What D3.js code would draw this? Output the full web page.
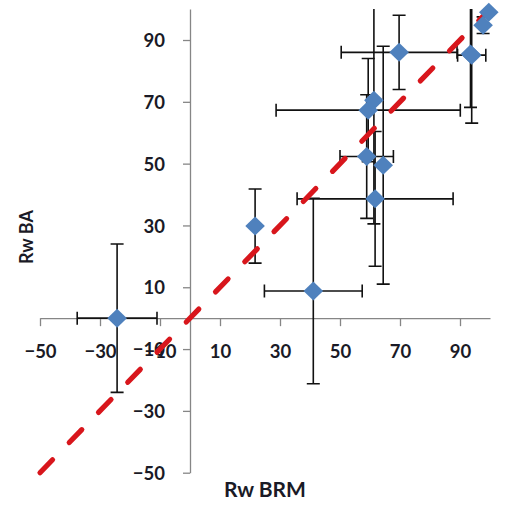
<!DOCTYPE html>
<html>
<head>
<meta charset="utf-8">
<script src="https://cdn.jsdelivr.net/npm/d3@7"></script>
<style>
  html, body { margin: 0; padding: 0; background: #fff; }
  svg { display: block; }
  .tick text { font-family: Lato, "Open Sans", sans-serif; font-weight: 700; font-size: 18.5px; fill: #1a1a26; }
  .title { font-family: Lato, "Open Sans", sans-serif; font-weight: 700; fill: #1a1a26; }
</style>
</head>
<body>
<svg id="chart" width="508" height="507"></svg>
<script>
// ---- data ----
const xValues = [-24.3, 21.7, 41.1, 58.9, 64.4, 61.7, 61.3, 59.4, 69.7, 93.9, 93.5, 97.7, 99.6];
const yValues = [0, 29.8, 8.8, 52.3, 49.5, 38.6, 70.5, 67.3, 86.0, 85.1, 85.5, 94.8, 99.0];
const xErrors = [13.3, 0, 16.3, 8.9, 0, 26.0, 0, 30.7, 19.3, 4.7, 0, 0, 0];
const yErrors = [24.0, 12.0, 30.0, 20.0, 38.5, 21.8, 40.0, 16.7, 12.0, 22.0, 17.3, 2.7, 0];
const lineX = [-50, 100];
const lineY = [-50, 100];
const xTickValues = [-50, -30, -10, 10, 30, 50, 70, 90];
const yTickValues = [-50, -30, -10, 10, 30, 50, 70, 90];
const xTitle = "Rw BRM";
const yTitle = "Rw BA";

const svg = d3.select("#chart");
const x = d3.scaleLinear().domain([-50, 100]).range([40, 490]);
const y = d3.scaleLinear().domain([-50, 100]).range([472.7, 9.1]);

const points = xValues.map((v, i) => ({x: v, y: yValues[i], ex: xErrors[i], ey: yErrors[i]}));

// clip for error bars (plot area)
svg.append("defs").append("clipPath").attr("id", "plotclip")
  .append("rect").attr("x", x(-50)).attr("y", y(100))
  .attr("width", x(100) - x(-50)).attr("height", y(-50) - y(100));

// axes
const axisColor = "#868686";
const xAxis = svg.append("g").attr("transform", `translate(0,${y(0)})`)
  .call(d3.axisBottom(x).tickValues(xTickValues).tickFormat(d3.format("d")).tickSize(8).tickSizeOuter(0).tickPadding(19));
const yAxis = svg.append("g").attr("transform", `translate(${x(0)},0)`)
  .call(d3.axisLeft(y).tickValues(yTickValues).tickFormat(d3.format("d")).tickSize(7).tickSizeOuter(0).tickPadding(18));
[xAxis, yAxis].forEach(g => {
  g.select(".domain").attr("stroke", axisColor).attr("stroke-width", 1.3);
  g.selectAll(".tick line").attr("stroke", axisColor).attr("stroke-width", 1.3);
  g.attr("font-family", null).attr("font-size", null);
});
xAxis.selectAll(".tick text").attr("fill", null);
yAxis.selectAll(".tick text").attr("fill", null);
xAxis.selectAll(".tick text").attr("dy", "0.7em");
yAxis.selectAll(".tick text").attr("dy", "0.36em");

// error bars
const eb = svg.append("g").attr("clip-path", "url(#plotclip)")
  .attr("stroke", "#111").attr("stroke-width", 1.6).attr("fill", "none");
const cap = 6.5;
points.forEach(p => {
  if (p.ey > 0) {
    const cx = x(p.x), y1 = y(p.y + p.ey), y2 = y(p.y - p.ey);
    eb.append("line").attr("x1", cx).attr("x2", cx).attr("y1", y1).attr("y2", y2);
    eb.append("line").attr("x1", cx - cap).attr("x2", cx + cap).attr("y1", y1).attr("y2", y1);
    eb.append("line").attr("x1", cx - cap).attr("x2", cx + cap).attr("y1", y2).attr("y2", y2);
  }
  if (p.ex > 0) {
    const cy = y(p.y), x1 = x(p.x - p.ex), x2 = x(p.x + p.ex);
    eb.append("line").attr("x1", x1).attr("x2", x2).attr("y1", cy).attr("y2", cy);
    eb.append("line").attr("x1", x1).attr("x2", x1).attr("y1", cy - cap).attr("y2", cy + cap);
    eb.append("line").attr("x1", x2).attr("x2", x2).attr("y1", cy - cap).attr("y2", cy + cap);
  }
});

// red dashed line y = x (over error bars, under markers)
const lineData = lineX.map((v, i) => [v, lineY[i]]);
svg.append("path").datum(lineData)
  .attr("d", d3.line().x(d => x(d[0])).y(d => y(d[1])))
  .attr("fill", "none").attr("stroke", "#d8161c").attr("stroke-width", 5.2)
  .attr("stroke-dasharray", "18,24").attr("stroke-linecap", "round");

// markers (diamonds)
svg.append("g").selectAll("path").data(points).join("path")
  .attr("d", d => {
    const cx = x(d.x), cy = y(d.y), w = 9.8, h = 9.5;
    return `M${cx},${cy - h}L${cx + w},${cy}L${cx},${cy + h}L${cx - w},${cy}Z`;
  })
  .attr("fill", "#4f81bd");

// titles
svg.append("text").attr("class", "title").attr("x", 265).attr("y", 497)
  .attr("text-anchor", "middle").attr("font-size", 21).text(xTitle);
svg.append("text").attr("class", "title")
  .attr("transform", `translate(33,237) rotate(-90)`)
  .attr("text-anchor", "middle").attr("font-size", 18).text(yTitle);
</script>
</body>
</html>
